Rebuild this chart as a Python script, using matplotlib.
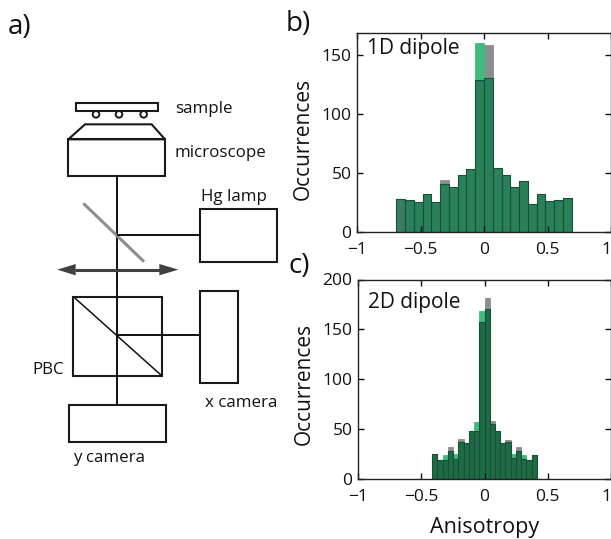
import matplotlib
matplotlib.use("Agg")
import numpy as np
import matplotlib.pyplot as plt
from matplotlib.patches import Rectangle, Polygon, Circle

plt.rcParams["font.family"] = ["Open Sans", "DejaVu Sans"]

W, H = 611, 539

GREEN = "#3FBC7C"
GRAY = "#8A8E90"
OVERLAP_1D = "#2A8058"
OVERLAP_2D = "#1F6B45"
TEXT = "#111111"

# histogram data
counts_1d_green = [28, 27, 25.7, 32, 25, 40.7, 38, 48, 53.7, 160, 130.5, 54, 48, 38, 43.5, 24, 32, 26, 27, 29]
counts_1d_gray = [28, 27, 25.7, 32, 25, 44, 38, 48, 53.7, 129, 158.5, 54, 48, 38, 43.5, 24, 32, 26.5, 27, 29]
counts_2d_green = [25, 19.3, 24, 28, 25, 37, 36, 48, 57, 168, 170, 55, 48, 36, 37, 25, 28, 24, 19, 24]
counts_2d_gray = [25, 19.3, 19, 32, 20, 40, 36, 48, 48, 157, 181, 58, 48, 36, 39, 21, 32, 20, 19, 24]
range_1d = 0.69
range_2d = 0.415
n_bins = 20


def px_axes(left, top, right, bottom):
    return [left / W, 1 - bottom / H, (right - left) / W, (bottom - top) / H]


def hist_panel(ax, green, gray, half, ymax, yticks, label, label_y, overlap, xpad, ylabel_y):
    edges = np.linspace(-half, half, n_bins + 1)
    width = edges[1] - edges[0]
    ax.bar(edges[:-1], gray, width=width, align="edge", color=GRAY, edgecolor=GRAY, linewidth=0.6)
    ax.bar(edges[:-1], green, width=width, align="edge", color=GREEN, edgecolor=GREEN, linewidth=0.6)
    both = ax.bar(edges[:-1], np.minimum(green, gray), width=width, align="edge", color=overlap,
                  edgecolor="#17503a", linewidth=0.8)
    ax.set_xlim(-1, 1)
    ax.set_ylim(0, ymax)
    ax.set_xticks([-1, -0.5, 0, 0.5, 1])
    ax.set_xticklabels(["\u22121", "\u22120.5", "0", "0.5", "1"])
    ax.set_yticks(yticks)
    ax.tick_params(direction="in", top=True, right=True, length=4, width=1, labelsize=12.5, pad=4, colors=TEXT)
    ax.tick_params(axis="x", pad=xpad)
    for s in ax.spines.values():
        s.set_linewidth(1)
        s.set_color("#222222")
    ax.set_ylabel("Occurrences", fontsize=15, labelpad=5.5, color=TEXT, y=ylabel_y)
    ax.text(0.04, label_y, label, transform=ax.transAxes, fontsize=15, va="center", color=TEXT)
    return both


fig = plt.figure(figsize=(W / 100, H / 100), dpi=100, facecolor="white")

ax1 = fig.add_axes(px_axes(357, 33, 611, 232))
bars_1d = hist_panel(ax1, counts_1d_green, counts_1d_gray, range_1d, 168.6, [0, 50, 100, 150],
                     "1D dipole", 0.92, OVERLAP_1D, 7, 0.47)
bars_1d[0].set_facecolor("#3F7A62")

ax2 = fig.add_axes(px_axes(358, 279.5, 611, 479))
hist_panel(ax2, counts_2d_green, counts_2d_gray, range_2d, 200, [0, 50, 100, 150, 200],
           "2D dipole", 0.885, OVERLAP_2D, 7.5, 0.475)
ax2.set_xlabel("Anisotropy", fontsize=15.5, labelpad=8, color=TEXT)

for ax in (ax1, ax2):
    ax.get_xticklabels()[-1].set_ha("right")

# schematic on the left, drawn in pixel coordinates
sch = fig.add_axes([0, 0, 1, 1], facecolor="none")
sch.set_xlim(0, W)
sch.set_ylim(H, 0)
sch.axis("off")


def z(x, y):
    # zoomed crop coordinates to figure pixels
    return x / 3, 80 + y / 3


def box(x0, y0, x1, y1, lw=1.5):
    a, b = z(x0, y0)
    c, d = z(x1, y1)
    sch.add_patch(Rectangle((a, b), c - a, d - b, fill=False, edgecolor="#1a1a1a", linewidth=lw))


def seg(x0, y0, x1, y1, color="#111111", lw=1.4):
    a, b = z(x0, y0)
    c, d = z(x1, y1)
    sch.plot([a, c], [b, d], color=color, linewidth=lw, solid_capstyle="butt")


box(227, 70, 473, 92)
for cx in (288, 357, 431):
    sch.add_patch(Circle(z(cx, 103), 3.3, fill=True, facecolor="white", edgecolor="#1a1a1a", linewidth=1.4))
sch.add_patch(Polygon([z(205, 178), z(255, 133), z(455, 133), z(495, 178)], closed=True, fill=False,
                      edgecolor="#1a1a1a", linewidth=1.5))
box(205, 178, 495, 288)
seg(351, 288, 351, 975)
seg(250, 370, 432, 545, color="#8e8e8e", lw=2.2)
seg(351, 466, 600, 466)
box(600, 388, 830, 545)
seg(225, 569, 480, 569, color="#404040", lw=2.2)
sch.add_patch(Polygon([z(172, 569), z(227, 552), z(227, 586)], closed=True, color="#404040", linewidth=0))
sch.add_patch(Polygon([z(535, 569), z(478, 552), z(478, 586)], closed=True, color="#404040", linewidth=0))
box(220, 650, 485, 887)
seg(220, 650, 485, 887, lw=1.1)
seg(351, 765, 600, 765)
box(600, 632, 715, 908)
box(207, 975, 497, 1085)

for txt, x, y in [("sample", 525, 88), ("microscope", 525, 218), ("Hg lamp", 602, 352),
                  ("PBC", 98, 870), ("x camera", 615, 968), ("y camera", 220, 1133)]:
    px, py = z(x, y)
    sch.text(px, py, txt, fontsize=12.2, va="center", ha="left", color=TEXT)

for txt, x, y in [("a)", 8, 27), ("b)", 286, 24), ("c)", 288, 266)]:
    sch.text(x, y, txt, fontsize=20, va="center", ha="left", color=TEXT)

fig.savefig("out.png", dpi=100)
